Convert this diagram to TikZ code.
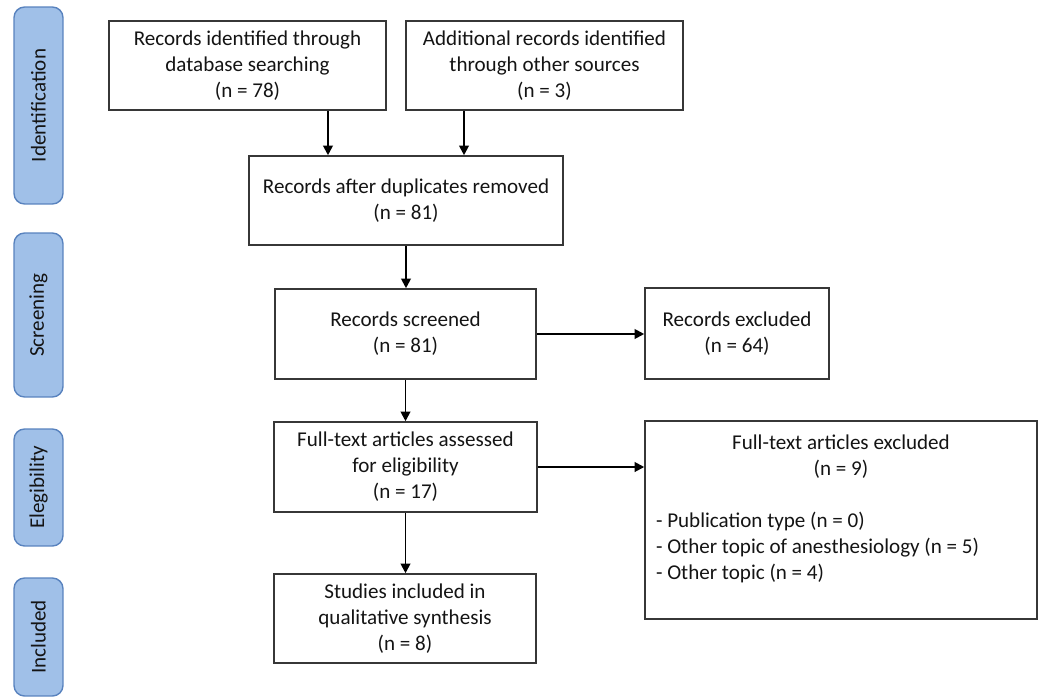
\documentclass[tikz,border=0pt]{standalone}
\usepackage{fontspec}
\setmainfont{Carlito}
\usepackage{xcolor}
\usetikzlibrary{arrows.meta, positioning, calc}
\definecolor{phasecolor}{RGB}{160, 192, 232}
\definecolor{phaseline}{RGB}{88, 130, 190}
\definecolor{boxline}{RGB}{55, 55, 55}
\definecolor{textcolor}{RGB}{20, 20, 20}

\begin{document}
\begin{tikzpicture}[
    x=0.02cm, y=-0.02cm,
    phase/.style={draw=phaseline, fill=phasecolor, line width=0.8pt, rounded corners=6pt, rotate=90, minimum height=0.98cm, font=\fontsize{12}{14}\selectfont, text=textcolor, inner sep=0pt},
    record/.style={draw=boxline, line width=0.9pt, minimum height=1.78cm, align=center, font=\fontsize{12}{14.8}\selectfont, text=textcolor, inner sep=2pt},
    arr/.style={line width=1.1pt, -{Triangle[length=5.5pt, width=5.5pt]}},
]
    \useasboundingbox (0,0) rectangle (1042,697);

    % Phases
    \node[phase, minimum width=3.94cm] (identification) at (38.5, 105.5) {Identification};
    \node[phase, minimum width=3.28cm] (screening) at (38.5, 315) {Screening};
    \node[phase, minimum width=2.34cm] (eligibility) at (38.5, 487.5) {Elegibility};
    \node[phase, minimum width=2.36cm] (included) at (38.5, 637) {Included};

    % Identification
    \node[record, minimum width=5.54cm] (database) at (247.5, 65.5) {Records identified through\\database searching\\(n = 78)};
    \node[record, minimum width=5.54cm] (other) at (544.5, 65.5) {Additional records identified\\through other sources\\(n = 3)};
    \node[record, minimum width=6.28cm] (duplicates) at (406, 200.5) {Records after duplicates removed\\(n = 81)};

    % Screening
    \node[record, minimum width=5.22cm, minimum height=1.8cm] (screened) at (405.5, 334) {Records screened\\(n = 81)};
    \node[record, minimum width=3.68cm, minimum height=1.82cm] (excluded) at (737, 333.5) {Records excluded\\(n = 64)};

    % Eligibility
    \node[record, minimum width=5.26cm, minimum height=1.8cm] (fulltext) at (405.5, 467) {Full-text articles assessed\\for eligibility\\(n = 17)};
    \node[record, minimum width=7.84cm, minimum height=3.96cm, text width=7.4cm, align=flush left] (fullexcluded) at (841, 520) {{\centering Full-text articles excluded\\(n = 9)\\[14.8pt]\par}- Publication type (n = 0)\\- Other topic of anesthesiology (n = 5)\\- Other topic (n = 4)\vspace{0.45cm}};

    % Included
    \node[record, minimum width=5.24cm] (studies) at (405, 618.5) {Studies included in\\qualitative synthesis\\(n = 8)};

    % Arrows
    \draw[arr] ([xshift=1.61cm]database.south) -- ([xshift=1.61cm]database.south |- duplicates.north);
    \draw[arr] ([xshift=-1.61cm]other.south) -- ([xshift=-1.61cm]other.south |- duplicates.north);
    \draw[arr] (duplicates.south) -- (duplicates.south |- screened.north);
    \draw[arr] (screened.east) -- (screened.east -| excluded.west);
    \draw[arr] (screened.south) -- (screened.south |- fulltext.north);
    \draw[arr] (fulltext.east) -- (fulltext.east -| fullexcluded.west);
    \draw[arr] (fulltext.south) -- (fulltext.south |- studies.north);
\end{tikzpicture}
\end{document}
